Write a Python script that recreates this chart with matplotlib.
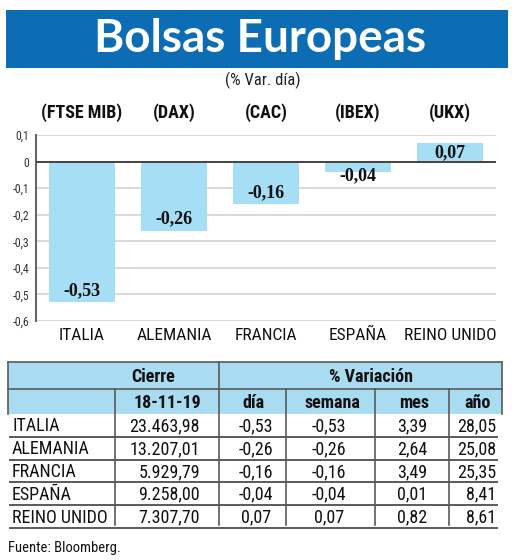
import matplotlib
matplotlib.use("Agg")
import matplotlib.pyplot as plt
from matplotlib import font_manager as fm
from matplotlib.patches import Rectangle

# ---------------- data ----------------
countries = ["ITALIA", "ALEMANIA", "FRANCIA", "ESPAÑA", "REINO UNIDO"]
indices = ["(FTSE MIB)", "(DAX)", "(CAC)", "(IBEX)", "(UKX)"]
var_dia = [-0.53, -0.26, -0.16, -0.04, 0.07]
yticks = [0.1, 0, -0.1, -0.2, -0.3, -0.4, -0.5, -0.6]

cierre = ["23.463,98", "13.207,01", "5.929,79", "9.258,00", "7.307,70"]
t_dia = ["-0,53", "-0,26", "-0,16", "-0,04", "0,07"]
t_semana = ["-0,53", "-0,26", "-0,16", "-0,04", "0,07"]
t_mes = ["3,39", "2,64", "3,49", "0,01", "0,82"]
t_anio = ["28,05", "25,08", "25,35", "8,41", "8,61"]
header2 = ["18-11-19", "día", "semana", "mes", "año"]

title = "Bolsas Europeas"
subtitle = "(% Var. día)"
source = "Fuente: Bloomberg."

# ---------------- fonts ----------------
available = {f.name for f in fm.fontManager.ttflist}
def pick(cands):
    for c in cands:
        if c in available:
            return c
    return "DejaVu Sans"
COND = pick(["Liberation Sans Narrow", "Roboto Condensed", "Open Sans Condensed", "Roboto", "Lato"])
BOLD = pick(["Lato", "Open Sans", "Roboto"])
SERIF = pick(["Liberation Serif", "DejaVu Serif"])
cond_scale = 1.0 if "Narrow" in COND or "Condensed" in COND else 0.9

BLUE = "#0c6cb4"
LIGHT = "#a5def5"
HEAD = "#a9dcf0"
LINE = "#5a5a5a"
TXT = "#111111"

W, H = 520, 560
fig = plt.figure(figsize=(W / 100, H / 100), dpi=100)

# overlay axes in pixel coordinates
ov = fig.add_axes([0, 0, 1, 1])
ov.set_xlim(0, W)
ov.set_ylim(H, 0)
ov.axis("off")

# title banner
ov.add_patch(Rectangle((6, 10), 502, 58, facecolor=BLUE, edgecolor="none"))
ov.text(260, 39, title, color="white", fontsize=33, fontweight="bold",
        family=BOLD, ha="center", va="center")
ov.text(263, 80, subtitle, color="#222222", fontsize=12, family=COND,
        ha="center", va="center")

# ---------------- bar chart ----------------
ax = fig.add_axes([36 / W, 1 - 321 / H, (496 - 36) / W, (321 - 135) / H])
ax.set_zorder(2)
ax.patch.set_alpha(0)
x = list(range(len(countries)))
ax.bar(x, var_dia, width=0.72, color=LIGHT, zorder=2)
ax.set_xlim(-0.5, len(countries) - 0.5)
ax.set_ylim(-0.6, 0.1)
ax.set_yticks(yticks)
ax.set_yticklabels([("%g" % v).replace(".", ",") for v in yticks],
                   fontsize=8.5, family=COND, color="#333333")
ax.tick_params(axis="y", length=0, pad=5)
ax.set_xticks(x)
ax.set_xticklabels(countries, fontsize=12 * cond_scale + 0.5, family=COND, color=TXT)
ax.tick_params(axis="x", length=0, pad=5)
ax.grid(axis="y", color="#d9d9d9", linewidth=1.4, zorder=0)
ax.set_axisbelow(True)
for s in ["top", "right", "bottom"]:
    ax.spines[s].set_visible(False)
ax.spines["left"].set_color("#666666")
ax.spines["left"].set_linewidth(1.5)
ax.axhline(0, color="#4a4040", linewidth=1.4, zorder=3)

for xi, v in zip(x, var_dia):
    lab = ("%.2f" % v).replace(".", ",")
    if v < 0:
        y = v + 0.012 if v < -0.1 else v - 0.015
        va = "bottom" if v < -0.1 else "center"
    else:
        y = v - 0.003
        va = "top"
    ax.text(xi, y, lab, ha="center", va=va, fontsize=13, fontweight="bold",
            family=SERIF, color=TXT, zorder=4)

idx_y = (321 - 113) / (321 - 135)  # axis fraction for pixel row ~113
for xi, lab in zip(x, indices):
    ax.text(xi, idx_y, lab, transform=ax.get_xaxis_transform(), ha="center", va="center",
            fontsize=12.5 * cond_scale + 0.5, fontweight="bold", family=COND, color=TXT)

# ---------------- table ----------------
cols = [8, 115, 219, 286, 375, 449, 502]
h_top, h_mid, h_bot = 362, 389, 414
row_h = 22.8
nrows = len(countries)
ov.add_patch(Rectangle((cols[0], h_top), cols[-1] - cols[0], h_bot - h_top,
                       facecolor=HEAD, edgecolor="none"))
lw = 1.2
ov.plot([cols[0], cols[-1]], [h_top, h_top], color=LINE, lw=lw)
ov.plot([cols[0], cols[-1]], [h_mid, h_mid], color=LINE, lw=lw)
ov.plot([cols[0], cols[0]], [h_top, h_bot], color=LINE, lw=lw)
ov.plot([cols[-1], cols[-1]], [h_top, h_bot], color=LINE, lw=lw)
ov.plot([cols[2], cols[2]], [h_top, h_mid], color=LINE, lw=lw)
for cx in cols[1:-1]:
    ov.plot([cx, cx], [h_mid, h_bot + row_h * nrows - 3], color=LINE, lw=lw)

hfs = 12.5 * cond_scale + 0.5
ov.text(153, (h_top + h_mid) / 2 + 1, "Cierre", fontsize=hfs, fontweight="bold",
        family=COND, ha="center", va="center", color=TXT)
ov.text(371, (h_top + h_mid) / 2 + 1, "% Variación", fontsize=hfs, fontweight="bold",
        family=COND, ha="center", va="center", color=TXT)
h2x = [167, 253, 332, 414, 478]
for hx, lab in zip(h2x, header2):
    ov.text(hx, (h_mid + h_bot) / 2 + 1, lab, fontsize=hfs, fontweight="bold",
            family=COND, ha="center", va="center", color=TXT)

dfs = 12.5 * cond_scale + 0.5
for i in range(nrows):
    yb = h_bot + row_h * (i + 1)
    yc = yb - row_h / 2 + 1
    ov.plot([10, 497], [yb, yb], color=LINE, lw=1.4)
    ov.text(12, yc, countries[i], fontsize=dfs, family=COND, ha="left", va="center", color=TXT)
    ov.text(200, yc, cierre[i], fontsize=dfs, family=COND, ha="right", va="center", color=TXT)
    ov.text(256, yc, t_dia[i], fontsize=dfs, family=COND, ha="center", va="center", color=TXT)
    ov.text(329, yc, t_semana[i], fontsize=dfs, family=COND, ha="center", va="center", color=TXT)
    ov.text(412, yc, t_mes[i], fontsize=dfs, family=COND, ha="center", va="center", color=TXT)
    ov.text(496, yc, t_anio[i], fontsize=dfs, family=COND, ha="right", va="center", color=TXT)

ov.text(8, 548, source, fontsize=10.5, family=COND, ha="left", va="center", color=TXT)

fig.savefig("out.png", dpi=100)
